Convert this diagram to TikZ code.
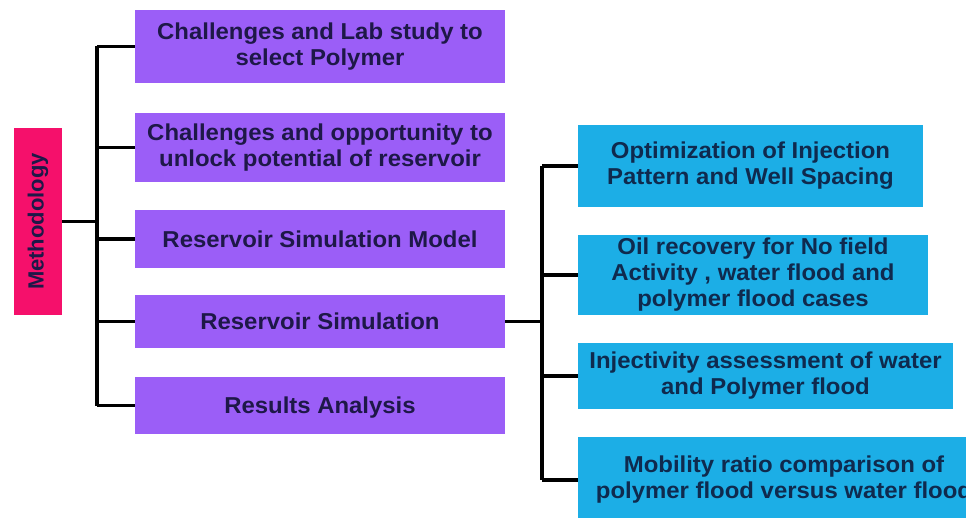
\documentclass[tikz,border=0pt]{standalone}
\usepackage{fontspec}
\setmainfont{Liberation Sans}[FakeStretch=1.04]
\newfontfamily\methfont{Liberation Sans}
\definecolor{stagefill}{HTML}{9B5EF7}
\definecolor{taskfill}{HTML}{1CAEE6}
\definecolor{rootfill}{HTML}{F5106B}
\definecolor{inkpurple}{HTML}{1E1848}
\definecolor{inkblue}{HTML}{0F2A4E}
\tikzset{
  % struts on the first and last line keep the capitals centred in each box
  boxtext/.style={inner sep=0pt, align=center,
    font=\bfseries\fontsize{23}{26}\selectfont,
    execute at begin node={\rule{0pt}{21.5pt}},
    execute at end node={\rule[-5pt]{0pt}{5pt}}},
  stagebox/.style={boxtext, fill=stagefill, text=inkpurple, minimum width=370pt},
  taskbox/.style={boxtext, fill=taskfill, text=inkblue},
  link/.style={line width=3.5pt, black, line cap=square}
}
\begin{document}
\begin{tikzpicture}[x=1pt, y=-1pt]
\useasboundingbox (0,0) rectangle (966,518);
\clip (0,0) rectangle (966,518);
\fill[white] (0,0) rectangle (966,518);

% root
\node[fill=rootfill, minimum width=48pt, minimum height=187pt, inner sep=0pt]
  (meth) at (38,221.5) {};
\node[rotate=90, text=inkpurple, font=\methfont\bfseries\fontsize{22}{26}\selectfont]
  (methlabel) at (meth.center) {Methodology};

% stages
\node[stagebox, minimum height=73pt] (s1) at (320,46.5) {Challenges and Lab study to\\select Polymer};
\node[stagebox, minimum height=69pt] (s2) at (320,147.5) {Challenges and opportunity to\\unlock potential of reservoir};
\node[stagebox, minimum height=58pt] (s3) at (320,239) {Reservoir Simulation Model};
\node[stagebox, minimum height=53pt] (s4) at (320,321.5) {Reservoir Simulation};
\node[stagebox, minimum height=57pt] (s5) at (320,405.5) {Results Analysis};

% simulation tasks
\node[taskbox, minimum width=345pt, minimum height=82pt] (t1) at (750.5,166) {Optimization of Injection\\Pattern and Well Spacing};
\node[taskbox, minimum width=350pt, minimum height=80pt] (t2) at (753,275) {Oil recovery for No field\\Activity , water flood and\\polymer flood cases};
\node[taskbox, minimum width=375pt, minimum height=66pt] (t3) at (765.5,376) {Injectivity assessment of water\\and Polymer flood};
\node[taskbox, minimum width=412pt, minimum height=86pt] (t4) at (784,480) {Mobility ratio comparison of\\polymer flood versus water flood};

% left tree
\coordinate (lt) at (97,0);
\draw[link] (s1.west -| lt) -- (s5.west -| lt);
\draw[link] (meth.east) -- (meth.east -| lt);
\foreach \s in {s1,s2,s3,s4,s5}
  \draw[link, line cap=butt] (\s.west -| lt) -- (\s.west);

% right tree
\coordinate (rt) at (542,0);
\draw[link] (t1.west -| rt) -- (t4.west -| rt);
\draw[link, line cap=butt] (s4.east) -- (s4.east -| rt);
\foreach \t in {t1,t2,t3,t4}
  \draw[link, line cap=butt] (\t.west -| rt) -- (\t.west);
\end{tikzpicture}
\end{document}
